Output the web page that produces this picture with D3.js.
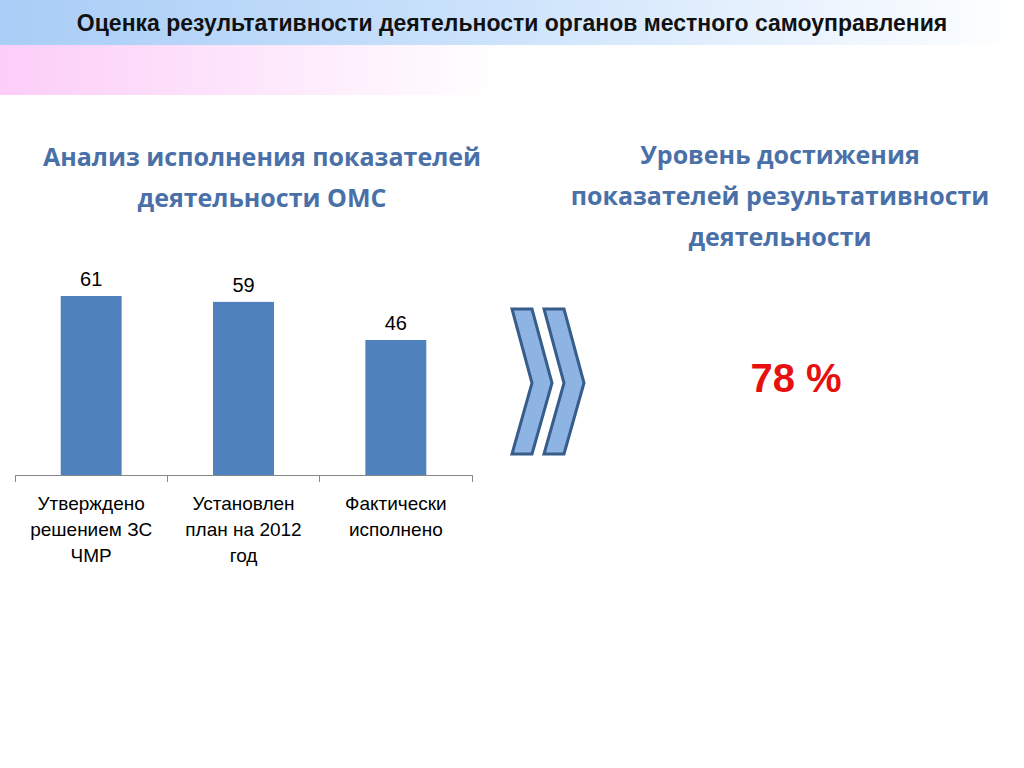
<!DOCTYPE html><html><head><meta charset="utf-8"><script src="https://cdn.jsdelivr.net/npm/d3@7"></script>
<style>body{margin:0;background:#fff}</style></head><body><svg id="c" width="1024" height="768"></svg><script>
const categories=[["Утверждено","решением ЗС","ЧМР"],["Установлен","план на 2012","год"],["Фактически","исполнено"]];
const values=[61,59,46];
const resultLabel="78 %";
const svg=d3.select("#c");
const defs=svg.append("defs");
const g1=defs.append("linearGradient").attr("id","gb");
g1.append("stop").attr("offset","0").attr("stop-color","#a9cdf6");
g1.append("stop").attr("offset","0.45").attr("stop-color","#c9e1fb");
g1.append("stop").attr("offset","1").attr("stop-color","#ffffff");
const g2=defs.append("linearGradient").attr("id","gp");
g2.append("stop").attr("offset","0").attr("stop-color","#fccdf8");
g2.append("stop").attr("offset","1").attr("stop-color","#ffffff");
svg.append("rect").attr("x",0).attr("y",0).attr("width",1024).attr("height",45).attr("fill","url(#gb)");
svg.append("rect").attr("x",0).attr("y",45).attr("width",500).attr("height",50).attr("fill","url(#gp)");
svg.append("text").attr("x",512).attr("y",31).attr("text-anchor","middle").attr("font-family","Liberation Sans Narrow, Arial Narrow, Liberation Sans, sans-serif").attr("font-weight","bold").attr("font-size",23).attr("fill","#111").text("Оценка результативности деятельности органов местного самоуправления");
const tcol="#4a70a8";
[["Анализ исполнения показателей",166],["деятельности ОМС",207]].forEach(([t,y])=>svg.append("text").attr("x",262).attr("y",y).attr("text-anchor","middle").attr("font-family","Open Sans, sans-serif").attr("font-weight","bold").attr("font-size",25).attr("fill",tcol).text(t));
[["Уровень достижения",164],["показателей результативности",205],["деятельности",246]].forEach(([t,y])=>svg.append("text").attr("x",780).attr("y",y).attr("text-anchor","middle").attr("font-family","Open Sans, sans-serif").attr("font-weight","bold").attr("font-size",25).attr("fill",tcol).text(t));
const x=d3.scaleBand().domain(d3.range(values.length)).range([15,472]).paddingInner(0.6).paddingOuter(0.3);
const y=d3.scaleLinear().domain([0,61]).range([475,296]);
svg.selectAll(".b").data(values).enter().append("rect").attr("x",(d,i)=>x(i)).attr("width",x.bandwidth()).attr("y",d=>y(d)).attr("height",d=>475-y(d)).attr("fill","#4f81bd");
svg.selectAll(".v").data(values).enter().append("text").attr("x",(d,i)=>x(i)+x.bandwidth()/2).attr("y",d=>y(d)-10).attr("text-anchor","middle").attr("font-family","Liberation Sans, Arial, sans-serif").attr("font-size",20).attr("fill","#000").text(d=>d);
svg.append("line").attr("x1",15).attr("x2",472).attr("y1",475.5).attr("y2",475.5).attr("stroke","#888");
[15,167,319,472].forEach(v=>svg.append("line").attr("x1",v+0.5).attr("x2",v+0.5).attr("y1",475).attr("y2",482).attr("stroke","#888"));
categories.forEach((lines,i)=>lines.forEach((t,j)=>svg.append("text").attr("x",x(i)+x.bandwidth()/2).attr("y",510+j*26).attr("text-anchor","middle").attr("font-family","Liberation Sans, Arial, sans-serif").attr("font-size",19).attr("fill","#000").text(t)));
[0,32].forEach(o=>svg.append("path").attr("d",`M${512+o},309 L${532+o},309 L${552+o},383 L${532+o},454 L${512+o},454 L${532+o},383 Z`).attr("fill","#8eb4e3").attr("stroke","#385d8a").attr("stroke-width",3).attr("stroke-linejoin","miter"));
svg.append("text").attr("x",796).attr("y",392).attr("text-anchor","middle").attr("font-family","Liberation Sans, Arial, sans-serif").attr("font-weight","bold").attr("font-size",40).attr("fill","#e8100e").text(resultLabel);
</script></body></html>
